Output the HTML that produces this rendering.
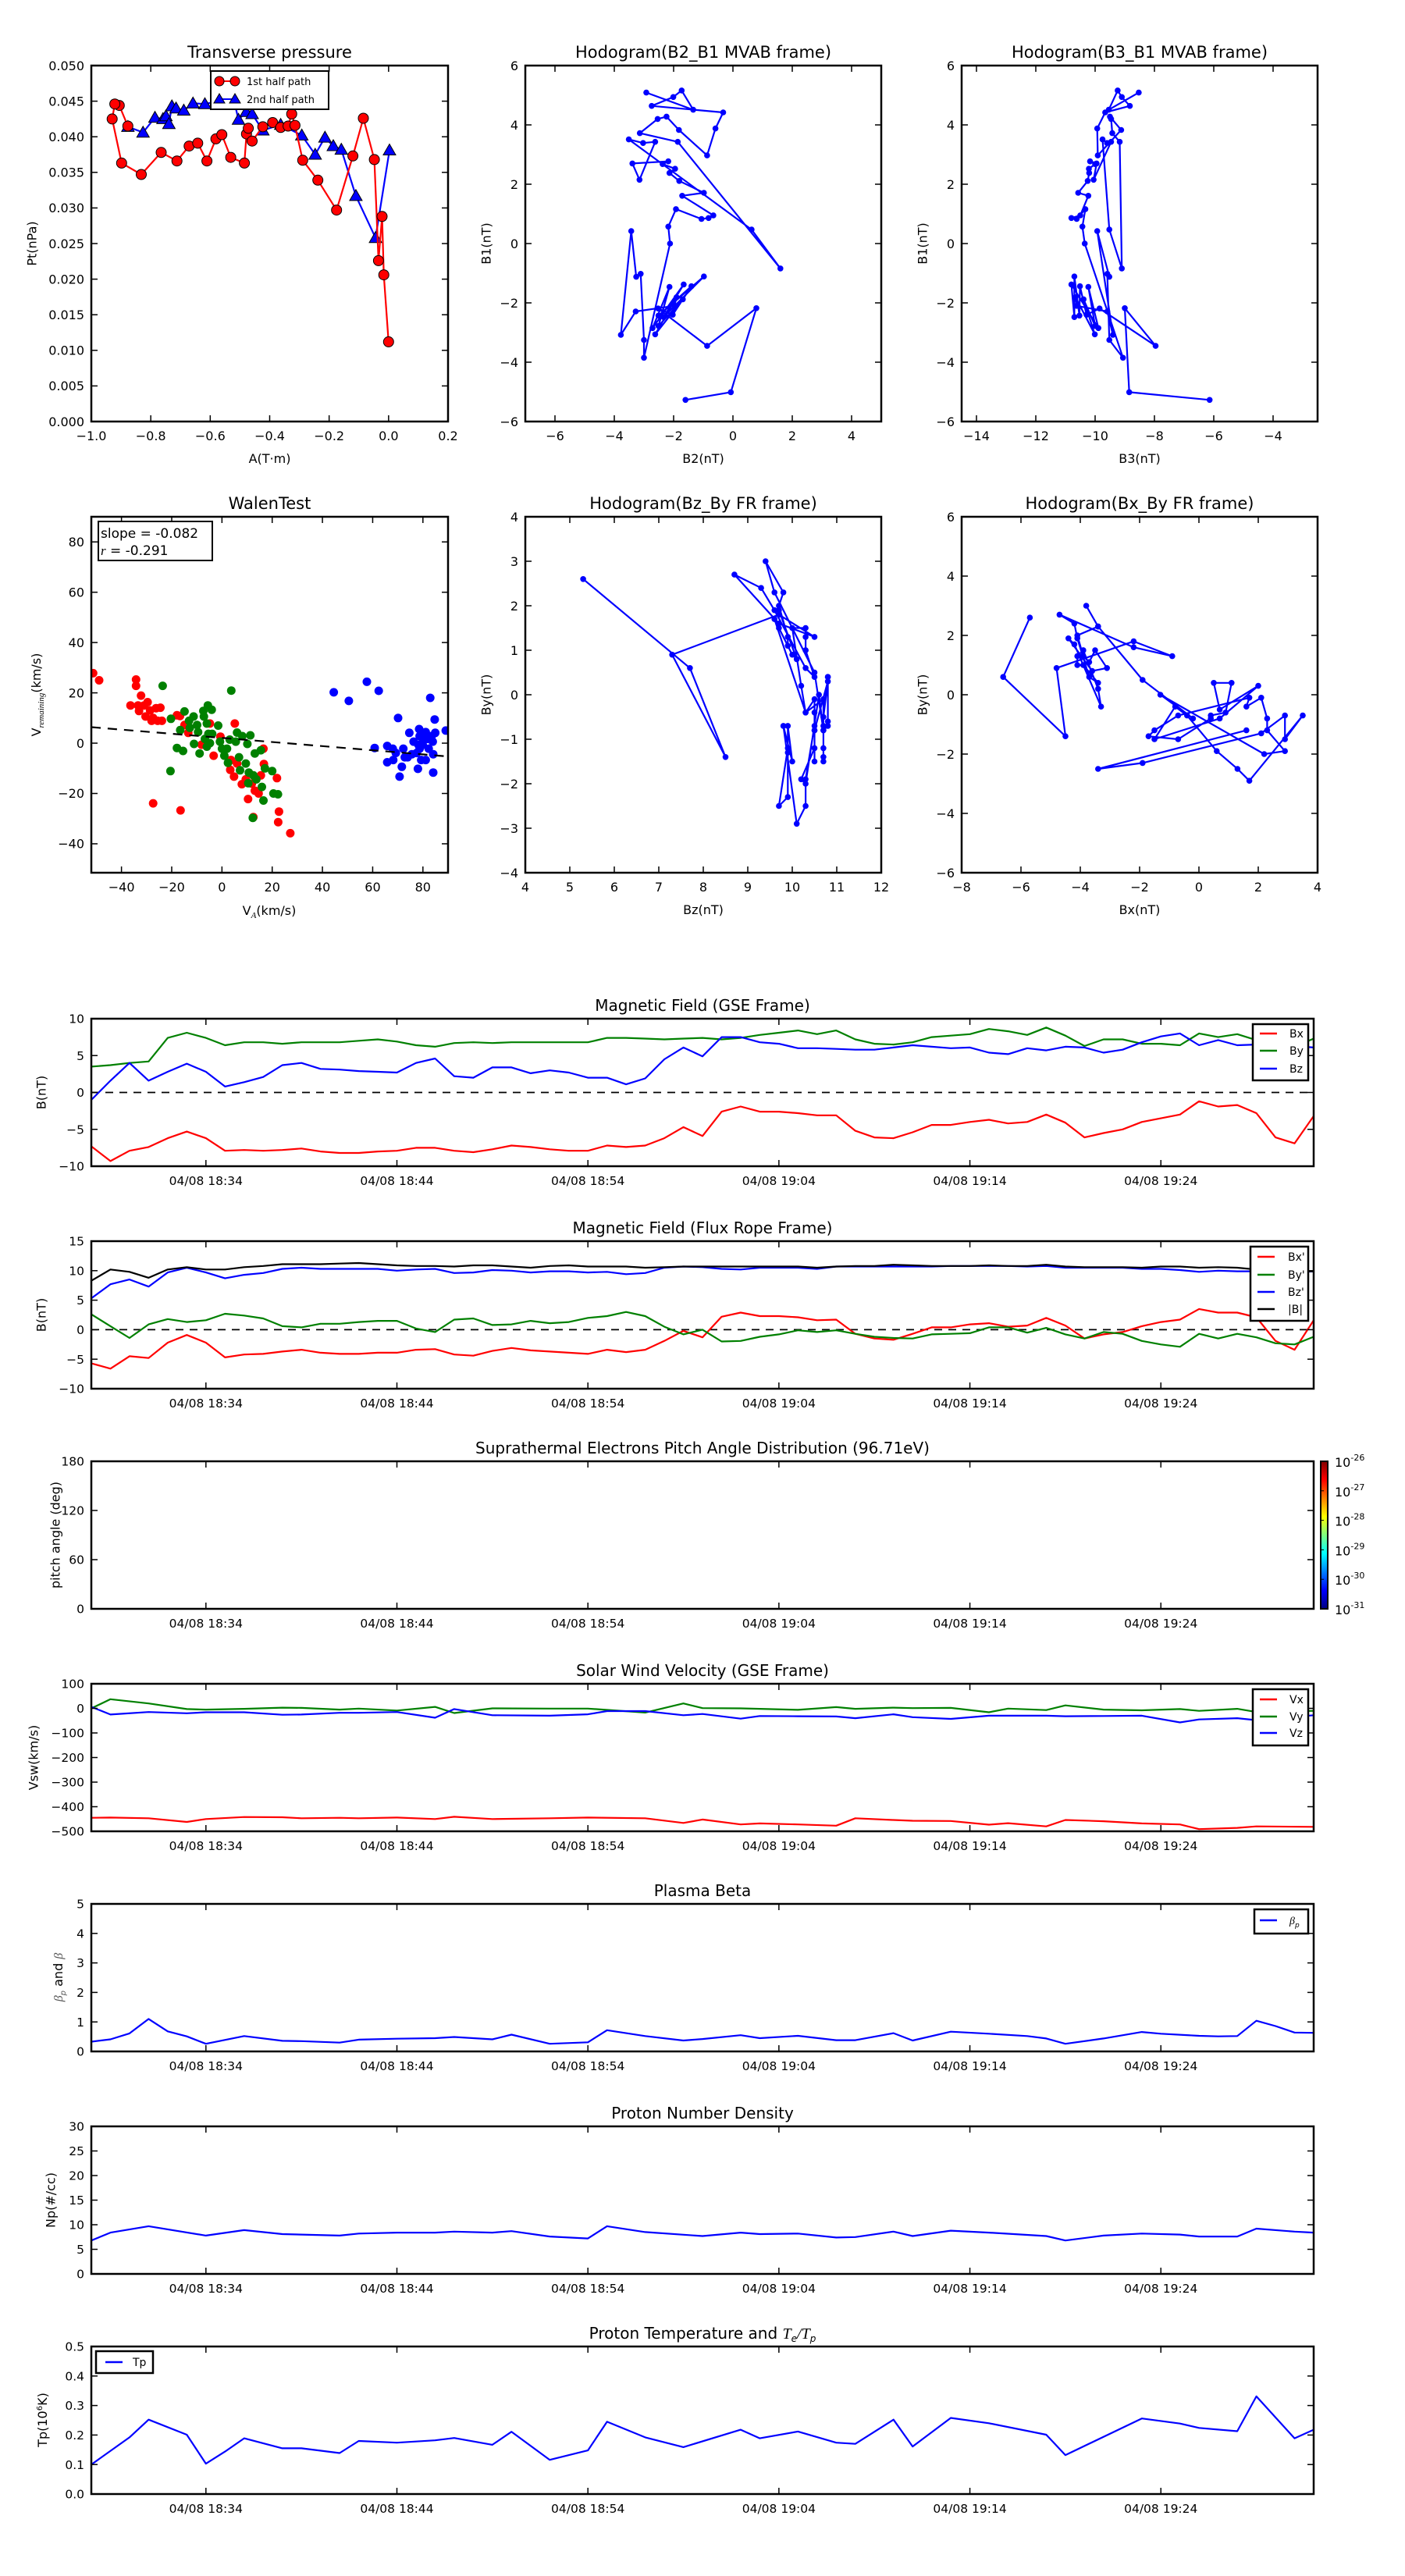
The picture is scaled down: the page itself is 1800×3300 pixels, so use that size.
<!DOCTYPE html>
<html><head><meta charset="utf-8"><style>
html,body{margin:0;padding:0;background:#fff;}
svg{display:block;font-family:"DejaVu Sans","Liberation Sans",sans-serif;}
</style></head><body>
<svg id="fig" xmlns="http://www.w3.org/2000/svg" width="1800" height="3300" viewBox="0 0 1800 3300">
<rect x="0" y="0" width="1800" height="3300" fill="#fff"/>
<defs>
<linearGradient id="jet" x1="0" y1="1" x2="0" y2="0">
<stop offset="0" stop-color="#00007f"/><stop offset="0.125" stop-color="#0000ff"/><stop offset="0.375" stop-color="#00ffff"/><stop offset="0.625" stop-color="#ffff00"/><stop offset="0.875" stop-color="#ff0000"/><stop offset="1" stop-color="#7f0000"/>
</linearGradient>
</defs>
</svg>
<script>
// ---------- data ----------
// Transverse pressure
const tp1A=[-0.877,-0.906,-0.921,-0.930,-0.898,-0.832,-0.765,-0.712,-0.671,-0.642,-0.611,-0.581,-0.561,-0.531,-0.485,-0.478,-0.472,-0.459,-0.423,-0.390,-0.363,-0.338,-0.326,-0.315,-0.289,-0.238,-0.175,-0.120,-0.085,-0.048,-0.034,-0.022,-0.016,0.000];
const tp1P=[0.0415,0.0444,0.0446,0.0425,0.0363,0.0347,0.0378,0.0366,0.0387,0.0391,0.0366,0.0397,0.0403,0.0371,0.0363,0.0404,0.0412,0.0394,0.0414,0.0420,0.0413,0.0415,0.0432,0.0416,0.0367,0.0339,0.0297,0.0373,0.0426,0.0368,0.0226,0.0288,0.0206,0.0112];
const tp2A=[-0.877,-0.826,-0.786,-0.759,-0.749,-0.739,-0.729,-0.715,-0.689,-0.658,-0.618,-0.560,-0.520,-0.505,-0.479,-0.459,-0.423,-0.363,-0.292,-0.247,-0.214,-0.186,-0.159,-0.110,-0.044,0.003];
const tp2P=[0.0414,0.0406,0.0427,0.0425,0.0429,0.0418,0.0443,0.0440,0.0437,0.0447,0.0446,0.0451,0.0451,0.0424,0.0435,0.0432,0.0409,0.0417,0.0402,0.0375,0.0399,0.0387,0.0382,0.0317,0.0258,0.0381];
// MVAB hodograms
const mvB1=[-5.27,-5.01,-2.18,-3.45,-2.19,-2.40,-1.44,-2.43,-1.11,-2.48,-1.38,-2.85,-1.46,-2.78,-1.88,-3.06,-1.81,-2.10,-2.29,-3.08,0.42,-1.12,-1.02,-3.25,-3.85,0.00,0.57,1.16,0.83,0.86,0.95,1.61,1.71,2.11,2.38,2.52,2.68,2.77,2.70,2.15,3.43,3.39,3.51,0.47,-0.84,3.43,3.72,4.20,4.28,3.83,2.97,3.88,4.42,4.64,4.94,5.16,4.51,5.09];
const mvB2=[-1.60,-0.07,0.79,-0.87,-2.52,-2.03,-1.40,-2.51,-0.98,-2.34,-1.66,-2.71,-2.14,-2.51,-1.69,-2.62,-1.90,-1.97,-3.28,-3.78,-3.43,-3.26,-3.11,-3.00,-3.00,-2.12,-2.18,-1.92,-1.06,-0.82,-0.66,-1.71,-0.98,-1.81,-2.14,-1.95,-2.37,-2.18,-3.39,-3.15,-2.62,-3.03,-3.51,0.63,1.60,-1.86,-3.14,-2.54,-2.24,-1.82,-0.87,-0.59,-0.33,-2.74,-2.01,-1.73,-1.34,-2.92];
const mvB3=[-6.14,-8.85,-9.00,-7.96,-9.85,-10.29,-10.51,-10.53,-10.70,-10.70,-10.80,-9.89,-10.23,-10.00,-10.39,-10.01,-10.66,-10.62,-9.59,-9.40,-9.93,-9.52,-9.59,-9.52,-9.06,-10.35,-10.43,-10.33,-10.62,-10.80,-10.50,-10.23,-10.57,-10.25,-10.20,-10.21,-10.00,-10.17,-9.95,-10.05,-9.46,-9.60,-9.75,-9.52,-9.10,-9.17,-9.42,-9.46,-9.50,-9.12,-9.91,-9.93,-9.66,-8.83,-9.10,-9.24,-9.54,-8.53];
// Walen test
const walenRedX=[-51.3,-48.9,-34.2,-34.2,-32.2,-36.4,-33.4,-33,-31,-29.6,-30.4,-28.6,-27.4,-26.2,-24.5,-25.6,-23.9,-28,-17.9,-16.7,-14.9,-13.4,-27.4,-16.5,-4.8,-0.6,-8.1,-3.3,5.1,3.6,6,3.3,4.8,7.9,9.5,10.4,13.1,14.6,15.5,16.5,16.7,21.9,22.7,22.4,27.2,12.5,11.9];
const walenRedY=[27.8,25,25.3,22.8,18.9,15,15,12.8,15,16.3,10.6,13,10,13.9,14.1,8.9,8.9,8.9,11.1,10.8,7.2,4.1,-23.9,-26.7,7.8,2.6,-0.6,-5,7.8,-6.7,-8.1,-10.6,-13.3,-16.3,-14.4,-22.2,-18.9,-20,-12.8,-2.2,-8.3,-13.9,-27.2,-31.4,-35.8,-29.4,-16.1];
const walenGreenX=[-23.6,3.7,-20.3,-14.9,-16.6,-17.9,-15.5,-20.5,-13.1,-11.3,-12.8,-9.9,-9.5,-11.1,-8.9,-7.4,-5.6,-4.1,-7.2,-6,-5.4,-3.9,-6.8,-6,-4.8,-1.5,-0.8,0,0.95,2.4,2,3.1,6,5.5,6.8,7.2,8.1,9.5,10.1,11.3,10.7,12.5,13.7,10.5,13.1,15.5,15.9,17.1,20,20.5,22.3,16.5,12.3];
const walenGreenY=[22.8,20.9,9.7,12.6,5.2,-1.9,-3.1,-11.1,8.9,10.6,6.1,7.2,4.4,-0.3,-4.1,12.8,15,13.3,10.6,7.8,3.7,3.7,1.7,-1.4,0,7,0.6,-2.2,-5,-7.8,-2.2,1.4,4.2,0.6,-5.6,-10.8,2.8,-8.1,-0.3,3.1,-11.7,-12.8,-14.4,-15.9,-4.1,-2.8,-17.4,-10,-11.1,-20,-20.3,-22.8,-29.7];
const walenBlueX=[44.5,50.5,57.7,62.4,82.9,70.1,84.7,74.6,89.1,60.8,65.8,65.8,68,69.2,68.2,72.2,71.6,72.8,70.7,78,84.1,76.3,78.5,78.7,79.9,81.1,81.7,83.5,84.9,83.9,84.1,78.7,77.5,79.3,81.1,75.6,82.3,80.2,78.2,73.9];
const walenBlueY=[20.2,16.8,24.4,20.8,18,10,9.4,4.1,5,-1.9,-1.1,-7.6,-2.2,-3.9,-6.7,-2.2,-9.4,-5.6,-13.3,-10.2,-11.7,0.6,5.6,2.8,-0.6,4.4,1.7,2.8,4.1,0.6,-4.4,-2.2,-3.9,-6.7,-6.7,-4.4,-2.2,1.4,-0.6,-5.6];
const walenSlope=-0.082, walenIntercept=2.1;
// GSE magnetic field, 1-minute samples from 18:28
const bxGse=[-7.3,-9.3,-7.9,-7.4,-6.2,-5.3,-6.2,-7.9,-7.8,-7.9,-7.8,-7.6,-8.0,-8.2,-8.2,-8.0,-7.9,-7.5,-7.5,-7.9,-8.1,-7.7,-7.2,-7.4,-7.7,-7.9,-7.9,-7.2,-7.4,-7.2,-6.2,-4.7,-5.9,-2.6,-1.9,-2.6,-2.6,-2.8,-3.1,-3.1,-5.2,-6.1,-6.2,-5.4,-4.4,-4.4,-4.0,-3.7,-4.2,-4.0,-3.0,-4.1,-6.1,-5.5,-5.0,-4.0,-3.5,-3.0,-1.2,-1.9,-1.7,-2.8,-6.1,-6.9,-3.2];
const byGse=[3.5,3.7,4.0,4.2,7.4,8.1,7.4,6.4,6.8,6.8,6.6,6.8,6.8,6.8,7.0,7.2,6.9,6.4,6.2,6.7,6.8,6.7,6.8,6.8,6.8,6.8,6.8,7.4,7.4,7.3,7.2,7.3,7.4,7.2,7.4,7.8,8.1,8.4,7.9,8.4,7.2,6.6,6.5,6.8,7.5,7.7,7.9,8.6,8.3,7.8,8.8,7.7,6.3,7.2,7.2,6.6,6.6,6.4,8.0,7.5,7.9,7.1,7.0,6.2,7.3];
const bzGse=[-1.0,1.6,4.0,1.6,2.8,3.9,2.8,0.8,1.4,2.1,3.7,4.0,3.2,3.1,2.9,2.8,2.7,4.0,4.6,2.2,2.0,3.4,3.4,2.6,3.0,2.7,2.0,2.0,1.1,1.9,4.5,6.1,4.9,7.5,7.5,6.8,6.6,6.0,6.0,5.9,5.8,5.8,6.1,6.4,6.2,6.0,6.1,5.4,5.2,6.0,5.7,6.2,6.1,5.4,5.8,6.8,7.6,8.0,6.4,7.1,6.4,6.5,6.6,6.3,6.1];
// Flux rope frame
const bxFr=[-5.7,-6.6,-4.5,-4.8,-2.2,-0.9,-2.2,-4.7,-4.2,-4.1,-3.7,-3.4,-3.9,-4.1,-4.1,-3.9,-3.9,-3.4,-3.3,-4.2,-4.4,-3.6,-3.1,-3.5,-3.7,-3.9,-4.1,-3.4,-3.8,-3.4,-1.9,-0.2,-1.3,2.2,2.9,2.3,2.3,2.1,1.6,1.7,-0.7,-1.5,-1.7,-0.7,0.4,0.4,0.9,1.1,0.5,0.7,2.0,0.7,-1.5,-0.8,-0.4,0.6,1.3,1.7,3.5,2.9,2.9,2.1,-1.9,-3.4,1.6];
const byFr=[2.6,0.6,-1.4,0.9,1.8,1.3,1.6,2.7,2.4,1.9,0.6,0.4,1.0,1.0,1.3,1.5,1.5,0.2,-0.4,1.7,1.9,0.8,0.9,1.5,1.1,1.3,2.0,2.3,3.0,2.3,0.5,-0.8,0.0,-2.0,-1.9,-1.2,-0.8,-0.1,-0.4,-0.1,-0.7,-1.2,-1.4,-1.5,-0.8,-0.7,-0.6,0.4,0.4,-0.5,0.3,-0.8,-1.5,-0.4,-0.7,-1.9,-2.5,-2.9,-0.7,-1.5,-0.7,-1.3,-2.3,-2.5,-1.2];
const bzFr=[5.3,7.7,8.5,7.3,9.7,10.5,9.7,8.7,9.3,9.6,10.3,10.5,10.3,10.3,10.3,10.3,10.0,10.2,10.3,9.6,9.7,10.1,10.0,9.7,9.9,9.9,9.7,9.8,9.4,9.6,10.5,10.7,10.6,10.3,10.2,10.5,10.5,10.5,10.3,10.7,10.7,10.7,10.7,10.7,10.7,10.8,10.8,10.8,10.8,10.7,10.8,10.5,10.5,10.5,10.5,10.3,10.3,10.1,9.8,10.0,9.9,9.9,9.9,9.7,9.9];
const bAbs=[8.3,10.2,9.8,8.8,10.2,10.6,10.2,10.2,10.6,10.8,11.1,11.1,11.1,11.2,11.3,11.1,10.9,10.8,10.8,10.7,10.9,10.9,10.7,10.5,10.8,10.9,10.7,10.7,10.7,10.5,10.6,10.7,10.7,10.7,10.7,10.7,10.7,10.7,10.5,10.7,10.8,10.8,11.0,10.9,10.8,10.8,10.8,10.9,10.8,10.8,11.0,10.7,10.6,10.6,10.6,10.5,10.7,10.7,10.5,10.6,10.5,10.2,10.1,9.9,9.9];
// Solar wind velocity
const vTime=[0,1,3,5,6,8,10,11,13,14,16,18,19,21,24,26,29,31,32,34,35,37,39,40,42,43,45,47,48,50,51,53,55,57,58,60,61,64];
const vx=[-445,-444,-447,-462,-450,-442,-443,-447,-445,-447,-444,-450,-441,-450,-447,-444,-447,-466,-452,-472,-468,-472,-477,-447,-454,-457,-458,-473,-467,-480,-454,-459,-468,-472,-491,-486,-480,-482];
const vy=[0,37,20,-3,-5,-2,3,2,-5,-1,-9,6,-19,0,-1,-1,-17,20,1,0,-2,-6,5,-2,3,1,2,-16,-1,-7,12,-5,-8,-3,-10,-2,-15,-10];
const vzTime=[0,1,3,5,6,8,10,11,13,14,16,18,19,21,24,26,27,29,31,32,34,35,37,39,40,42,43,45,47,48,50,51,53,55,57,58,60,61,64];
const vz=[6,-25,-15,-20,-16,-16,-26,-25,-18,-18,-15,-38,-3,-28,-30,-24,-11,-11,-28,-23,-42,-31,-32,-33,-40,-24,-36,-43,-30,-30,-30,-32,-31,-30,-57,-45,-40,-48,-28];
// Plasma beta
const betaTime=[0,1,2,3,4,5,6,8,10,11,13,14,16,18,19,21,22,24,26,27,29,31,32,34,35,37,39,40,42,43,45,47,49,50,51,53,55,56,58,59,60,61,62,63,64];
const betaP=[0.33,0.41,0.61,1.10,0.68,0.51,0.26,0.52,0.36,0.35,0.30,0.40,0.43,0.45,0.49,0.41,0.57,0.26,0.31,0.72,0.52,0.37,0.42,0.55,0.45,0.53,0.38,0.38,0.62,0.37,0.67,0.60,0.52,0.44,0.26,0.44,0.66,0.60,0.53,0.51,0.52,1.04,0.86,0.64,0.63];
// Density
const npTime=[0,1,3,6,8,10,13,14,16,18,19,21,22,24,26,27,29,32,34,35,37,39,40,42,43,45,47,50,51,53,55,57,58,60,61,63,64];
const np=[6.8,8.4,9.7,7.8,8.9,8.1,7.8,8.2,8.4,8.4,8.6,8.4,8.7,7.6,7.2,9.7,8.5,7.7,8.4,8.1,8.2,7.4,7.5,8.6,7.7,8.8,8.4,7.7,6.8,7.8,8.2,8.0,7.6,7.6,9.2,8.6,8.4];
// Temperature
const tpTime=[0,2,3,5,6,7,8,10,11,13,14,16,18,19,21,22,24,26,27,29,31,34,35,37,39,40,42,43,45,47,50,51,55,57,58,60,61,63,64];
const tpVal=[0.100,0.192,0.252,0.201,0.103,0.144,0.189,0.155,0.155,0.139,0.180,0.174,0.182,0.190,0.167,0.211,0.116,0.148,0.245,0.192,0.159,0.218,0.189,0.212,0.174,0.170,0.252,0.161,0.258,0.240,0.201,0.132,0.256,0.239,0.224,0.213,0.331,0.189,0.218];
const timeTickMin=[6,16,26,36,46,56];
const timeTickLabels=['04/08 18:34','04/08 18:44','04/08 18:54','04/08 19:04','04/08 19:14','04/08 19:24'];
const cbLabels=['-26','-27','-28','-29','-30','-31'];

// ---------- helpers ----------
const NS='http://www.w3.org/2000/svg';
const svg=document.getElementById('fig');
function el(tag,attrs,parent){const e=document.createElementNS(NS,tag);for(const k in attrs)e.setAttribute(k,attrs[k]);(parent||svg).appendChild(e);return e;}
function txt(s,attrs,parent){const t=el('text',attrs,parent);t.textContent=s;return t;}
function range(a,b,s){const r=[];for(let v=a;v<=b+1e-9;v+=s)r.push(+v.toFixed(6));return r;}
function fmt(v,d){const s=Math.abs(v).toFixed(d);return (v<-1e-9?'\u2212':'')+s;}

function axes(o){
  const g=el('g',{});
  
  
  const W=o.x1-o.x0,H=o.y1-o.y0;
  const sx=v=>o.x0+(v-o.xmin)/(o.xmax-o.xmin)*W;
  const sy=v=>o.y1-(v-o.ymin)/(o.ymax-o.ymin)*H;
  const cid='clip-'+o.name;
  const cp=el('clipPath',{id:cid},g);
  el('rect',{x:o.x0,y:o.y0,width:W,height:H},cp);
  const plot=el('g',{'clip-path':'url(#'+cid+')'},g);
  
  
  const deco=el('g',{},g);
  const fs=o.fs||16;
  o.xticks.forEach((v,i)=>{
    const x=sx(v);
    const t1=el('line',{x1:x,y1:o.y1,x2:x,y2:o.y1-8,stroke:'#000','stroke-width':1.5},deco);
    
    
    el('line',{x1:x,y1:o.y0,x2:x,y2:o.y0+8,stroke:'#000','stroke-width':1.5},deco);
    const l=txt(o.xlabels[i],{x:x,y:o.y1+(o.xlOff||24),'font-size':fs,'text-anchor':'middle'},deco);
    
    
  });
  o.yticks.forEach((v,i)=>{
    const y=sy(v);
    const t1=el('line',{x1:o.x0,y1:y,x2:o.x0+8,y2:y,stroke:'#000','stroke-width':1.5},deco);
    
    
    el('line',{x1:o.x1,y1:y,x2:o.x1-8,y2:y,stroke:'#000','stroke-width':1.5},deco);
    const l=txt(o.ylabels[i],{x:o.x0-9,y:y+fs*0.36,'font-size':fs,'text-anchor':'end'},deco);
    
    
  });
  const fr=el('rect',{x:o.x0,y:o.y0,width:W,height:H,fill:'none',stroke:'#000','stroke-width':2.5},deco);
  
  
  const tt=txt(o.title,{x:(o.x0+o.x1)/2,y:o.y0-10,'font-size':o.tfs||20,'text-anchor':'middle'},deco);
  
  
  if(o.title2){tt.textContent=o.title;}
  if(o.xlab){
    const xl=txt(o.xlab,{x:(o.x0+o.x1)/2,y:o.xlabY,'font-size':16,'text-anchor':'middle'},deco);
    
    
  }
  if(o.ylab){
    const yc=(o.y0+o.y1)/2;
    const yl=txt(o.ylab,{x:o.ylabX,y:yc,'font-size':16,'text-anchor':'middle',transform:'rotate(-90 '+o.ylabX+' '+yc+')','dominant-baseline':'middle'},deco);
    
    
  }
  return {sx,sy,plot,deco,o,tt};
}
function pathOf(ax,xs,ys){return xs.map((x,i)=>(i?'L':'M')+ax.sx(x).toFixed(1)+' '+ax.sy(ys[i]).toFixed(1)).join('');}
function series(ax,xs,ys,color,name){
  const p=el('path',{d:pathOf(ax,xs,ys),fill:'none',stroke:color,'stroke-width':2.2,'stroke-linejoin':'round'},ax.plot);
  
  
  return p;
}
function dots(ax,xs,ys,color,r,name,stroke){
  xs.forEach((x,i)=>{
    const c=el('circle',{cx:ax.sx(x).toFixed(1),cy:ax.sy(ys[i]).toFixed(1),r:r,fill:color,stroke:stroke||'none','stroke-width':1},ax.plot);
    
    
  });
}
function tris(ax,xs,ys,color,name){
  xs.forEach((x,i)=>{
    const cx=ax.sx(x),cy=ax.sy(ys[i]),s=8;
    const t=el('polygon',{points:`${cx},${cy-s} ${cx-s},${cy+s*0.75} ${cx+s},${cy+s*0.75}`,fill:color,stroke:'#000','stroke-width':1},ax.plot);
    
    
  });
}
function zeroLine(ax){
  const z=el('line',{x1:ax.o.x0,x2:ax.o.x1,y1:ax.sy(0),y2:ax.sy(0),stroke:'#000','stroke-width':1.8,'stroke-dasharray':'10,8'},ax.plot);
  
  
}
function legend(ax,x,y,w,h,entries,rowY,lineX,textX){
  const g=el('g',{},ax.deco);
  
  
  el('rect',{x:x,y:y,width:w,height:h,fill:'#fff',stroke:'#000','stroke-width':2.5},g);
  entries.forEach((e,i)=>{
    const ln=el('line',{x1:lineX,x2:lineX+22,y1:rowY[i],y2:rowY[i],stroke:e[1],'stroke-width':2.5},g);
    
    
    const t=txt('',{x:textX,y:rowY[i]+5,'font-size':14},g);
    t.innerHTML=e[0];
    
    
  });
}

// ---------- Transverse pressure ----------
const axTP=axes({name:'transverse-pressure-chart',x0:117,x1:574,y0:84,y1:540,xmin:-1,xmax:0.2,ymin:0,ymax:0.05,
  xticks:range(-1,0.2,0.2),xlabels:range(-1,0.2,0.2).map(v=>fmt(v,1)),
  yticks:range(0,0.05,0.005),ylabels:range(0,0.05,0.005).map(v=>v.toFixed(3)),
  title:'Transverse pressure',xlab:'A(T\u00b7m)',xlabY:593,ylab:'Pt(nPa)',ylabX:42,tfs:21});
series(axTP,tp2A,tp2P,'#0000ff','second-half-path-line');
tris(axTP,tp2A,tp2P,'#0000ff','second-half-marker');
series(axTP,tp1A,tp1P,'#ff0000','first-half-path-line');
dots(axTP,tp1A,tp1P,'#ff0000',6.5,'first-half-marker','#000');
(function(){
  const g=el('g',{},axTP.deco);
  
  
  el('rect',{x:270,y:91,width:151,height:49,fill:'#fff',stroke:'#000','stroke-width':2},g);
  el('line',{x1:281,x2:301,y1:104,y2:104,stroke:'#f00','stroke-width':2},g);
  el('circle',{cx:281,cy:104,r:6,fill:'#f00',stroke:'#000'},g);
  el('circle',{cx:301,cy:104,r:6,fill:'#f00',stroke:'#000'},g);
  const t1=txt('1st half path',{x:316,y:109,'font-size':13},g);
  
  
  el('line',{x1:281,x2:301,y1:127,y2:127,stroke:'#00f','stroke-width':2},g);
  el('polygon',{points:'281,120 274,132 288,132',fill:'#00f',stroke:'#000'},g);
  el('polygon',{points:'301,120 294,132 308,132',fill:'#00f',stroke:'#000'},g);
  const t2=txt('2nd half path',{x:316,y:132,'font-size':13},g);
  
  
})();

// ---------- MVAB hodograms ----------
const axH1=axes({name:'hodogram-b2-b1-chart',x0:673,x1:1129,y0:84,y1:540,xmin:-7,xmax:5,ymin:-6,ymax:6,
  xticks:range(-6,4,2),xlabels:range(-6,4,2).map(v=>fmt(v,0)),yticks:range(-6,6,2),ylabels:range(-6,6,2).map(v=>fmt(v,0)),
  title:'Hodogram(B2_B1 MVAB frame)',xlab:'B2(nT)',xlabY:593,ylab:'B1(nT)',ylabX:624,tfs:21});
series(axH1,mvB2,mvB1,'#0000ff','hodogram-b2-b1-line');
dots(axH1,mvB2,mvB1,'#0000ff',3.8,'hodogram-b2-b1-point');
const axH2=axes({name:'hodogram-b3-b1-chart',x0:1232,x1:1688,y0:84,y1:540,xmin:-14.5,xmax:-2.5,ymin:-6,ymax:6,
  xticks:range(-14,-4,2),xlabels:range(-14,-4,2).map(v=>fmt(v,0)),yticks:range(-6,6,2),ylabels:range(-6,6,2).map(v=>fmt(v,0)),
  title:'Hodogram(B3_B1 MVAB frame)',xlab:'B3(nT)',xlabY:593,ylab:'B1(nT)',ylabX:1183,tfs:21});
series(axH2,mvB3,mvB1,'#0000ff','hodogram-b3-b1-line');
dots(axH2,mvB3,mvB1,'#0000ff',3.8,'hodogram-b3-b1-point');

// ---------- Walen test ----------
const axW=axes({name:'walen-test-chart',x0:117,x1:574,y0:662,y1:1118,xmin:-52,xmax:90,ymin:-51.5,ymax:90,
  xticks:range(-40,80,20),xlabels:range(-40,80,20).map(v=>fmt(v,0)),yticks:range(-40,80,20),ylabels:range(-40,80,20).map(v=>fmt(v,0)),
  title:'WalenTest',ylabX:45,tfs:21});
dots(axW,walenRedX,walenRedY,'#ff0000',5.5,'walen-red-point');
dots(axW,walenGreenX,walenGreenY,'#008000',5.5,'walen-green-point');
dots(axW,walenBlueX,walenBlueY,'#0000ff',5.5,'walen-blue-point');
(function(){
  const fit=el('line',{x1:axW.sx(-52),y1:axW.sy(walenSlope*-52+walenIntercept),x2:axW.sx(90),y2:axW.sy(walenSlope*90+walenIntercept),stroke:'#000','stroke-width':2.2,'stroke-dasharray':'12,9'},axW.plot);
  
  
  const g=el('g',{},axW.deco);
  
  
  el('rect',{x:126,y:668,width:146,height:50,fill:'#fff',stroke:'#000','stroke-width':2},g);
  txt('slope = -0.082',{x:129,y:689,'font-size':17},g);
  const r=txt('',{x:129,y:711,'font-size':17},g);
  r.innerHTML='<tspan font-family="Liberation Serif, serif" font-style="italic">r</tspan> = -0.291';
  const yl=txt('',{x:0,y:0,'font-size':16,'text-anchor':'middle',transform:'translate(52 890) rotate(-90)'},axW.deco);
  yl.innerHTML='V<tspan font-size="11" dy="4" font-family="Liberation Serif, serif" font-style="italic">remaining</tspan><tspan dy="-4">(km/s)</tspan>';
  
  
  const xl=txt('',{x:345,y:1172,'font-size':16,'text-anchor':'middle'},axW.deco);
  xl.innerHTML='V<tspan font-size="11" dy="4" font-family="Liberation Serif, serif" font-style="italic">A</tspan><tspan dy="-4">(km/s)</tspan>';
  
  
})();

// ---------- FR hodograms ----------
const axH3=axes({name:'hodogram-bz-by-chart',x0:673,x1:1129,y0:662,y1:1118,xmin:4,xmax:12,ymin:-4,ymax:4,
  xticks:range(4,12,1),xlabels:range(4,12,1).map(v=>fmt(v,0)),yticks:range(-4,4,1),ylabels:range(-4,4,1).map(v=>fmt(v,0)),
  title:'Hodogram(Bz_By FR frame)',xlab:'Bz(nT)',xlabY:1171,ylab:'By(nT)',ylabX:624,tfs:21});
series(axH3,bzFr,byFr,'#0000ff','hodogram-bz-by-line');
dots(axH3,bzFr,byFr,'#0000ff',3.8,'hodogram-bz-by-point');
const axH4=axes({name:'hodogram-bx-by-chart',x0:1232,x1:1688,y0:662,y1:1118,xmin:-8,xmax:4,ymin:-6,ymax:6,
  xticks:range(-8,4,2),xlabels:range(-8,4,2).map(v=>fmt(v,0)),yticks:range(-6,6,2),ylabels:range(-6,6,2).map(v=>fmt(v,0)),
  title:'Hodogram(Bx_By FR frame)',xlab:'Bx(nT)',xlabY:1171,ylab:'By(nT)',ylabX:1183,tfs:21});
series(axH4,bxFr,byFr,'#0000ff','hodogram-bx-by-line');
dots(axH4,bxFr,byFr,'#0000ff',3.8,'hodogram-bx-by-point');

// ---------- time series ----------
const minutes=bxGse.map((_,i)=>i);
function tAxes(name,y0,ymin,ymax,yt,yl,title,ylab,ylabX){
  return axes({name:name,x0:117,x1:1683,y0:y0,y1:y0+189,xmin:0,xmax:64,ymin:ymin,ymax:ymax,
    xticks:timeTickMin,xlabels:timeTickLabels,yticks:yt,ylabels:yl,title:title,ylab:ylab,ylabX:ylabX,fs:15.5,tfs:20,xlOff:24});
}
const axG=tAxes('gse-field-chart',1305,-10,10,range(-10,10,5),range(-10,10,5).map(v=>fmt(v,0)),'Magnetic Field (GSE Frame)','B(nT)',54);
zeroLine(axG);
series(axG,minutes,bxGse,'#ff0000','bx-gse-line');
series(axG,minutes,byGse,'#008000','by-gse-line');
series(axG,minutes,bzGse,'#0000ff','bz-gse-line');
legend(axG,1605,1312,71,72,[['Bx','#f00'],['By','#008000'],['Bz','#00f']],[1324,1346,1369],1614,1652);

const axF=tAxes('flux-rope-field-chart',1590,-10,15,range(-10,15,5),range(-10,15,5).map(v=>fmt(v,0)),'Magnetic Field (Flux Rope Frame)','B(nT)',54);
zeroLine(axF);
series(axF,minutes,bxFr,'#ff0000','bx-fr-line');
series(axF,minutes,byFr,'#008000','by-fr-line');
series(axF,minutes,bzFr,'#0000ff','bz-fr-line');
series(axF,minutes,bAbs,'#000000','b-magnitude-line');
legend(axF,1602,1597,74,95,[["Bx'",'#f00'],["By'",'#008000'],["Bz'",'#00f'],['|B|','#000']],[1610,1633,1655,1677],1611,1650);

const axPA=tAxes('pitch-angle-chart',1872,0,180,[0,60,120,180],['0','60','120','180'],'Suprathermal Electrons Pitch Angle Distribution (96.71eV)','pitch angle (deg)',72);
(function(){
  const g=el('g',{},svg);
  
  
  el('rect',{x:1692,y:1872,width:9,height:189,fill:'url(#jet)',stroke:'#000','stroke-width':2},g);
  cbLabels.forEach((s,i)=>{
    const y=1872+i*37.8;
    el('line',{x1:1692,x2:1696,y1:y,y2:y,stroke:'#000','stroke-width':1},g);
    const t=txt('',{x:1710,y:y+7,'font-size':16},g);
    t.innerHTML='10<tspan font-size="11" dy="-8">'+s+'</tspan>';
    
    
  });
})();

const axV=tAxes('solar-wind-velocity-chart',2157,-500,100,range(-500,100,100),range(-500,100,100).map(v=>fmt(v,0)),'Solar Wind Velocity (GSE Frame)','Vsw(km/s)',44);
series(axV,vTime,vx,'#ff0000','vx-line');
series(axV,vTime,vy,'#008000','vy-line');
series(axV,vzTime,vz,'#0000ff','vz-line');
legend(axV,1605,2164,71,72,[['Vx','#f00'],['Vy','#008000'],['Vz','#00f']],[2177,2199,2220],1614,1652);

const axB=tAxes('plasma-beta-chart',2439,0,5,range(0,5,1),range(0,5,1).map(v=>fmt(v,0)),'Plasma Beta','',0);
series(axB,betaTime,betaP,'#0000ff','beta-p-line');
legend(axB,1607,2446,69,31,[['<tspan font-family="Liberation Serif, serif" font-style="italic">\u03b2</tspan><tspan font-size="9" dy="4" font-style="italic">p</tspan>','#00f']],[2460],1614,1652);
(function(){
  const yl=txt('',{x:0,y:0,'font-size':16,'text-anchor':'middle',transform:'translate(80 2533) rotate(-90)'},axB.deco);
  yl.innerHTML='<tspan font-family="Liberation Serif, serif" font-style="italic" fill="#555">\u03b2</tspan><tspan font-size="10" dy="4" font-style="italic" fill="#555">p</tspan><tspan dy="-4"> and </tspan><tspan font-family="Liberation Serif, serif" font-style="italic" fill="#555">\u03b2</tspan>';
  
  
})();

const axN=tAxes('proton-density-chart',2724,0,30,range(0,30,5),range(0,30,5).map(v=>fmt(v,0)),'Proton Number Density','Np(#/cc)',66);
series(axN,npTime,np,'#0000ff','density-line');

const axT=tAxes('proton-temperature-chart',3006,0,0.5,range(0,0.5,0.1),range(0,0.5,0.1).map(v=>v.toFixed(1)),'Proton Temperature and ','',0);
series(axT,tpTime,tpVal,'#0000ff','tp-line');
axT.tt.innerHTML='Proton Temperature and <tspan font-family="Liberation Serif, serif" font-style="italic">T</tspan><tspan font-size="12" dy="4" font-style="italic">e</tspan><tspan dy="-4" font-family="Liberation Serif, serif" font-style="italic">/T</tspan><tspan font-size="12" dy="4" font-style="italic">p</tspan>';
legend(axT,123,3012,73,28,[['Tp','#00f']],[3026],135,170);
(function(){
  const yl=txt('',{x:0,y:0,'font-size':16,'text-anchor':'middle',transform:'translate(60 3100) rotate(-90)'},axT.deco);
  yl.innerHTML='Tp(10<tspan font-size="10" dy="-6">6</tspan><tspan dy="6">K)</tspan>';
  
  
})();
</script>
</body></html>
